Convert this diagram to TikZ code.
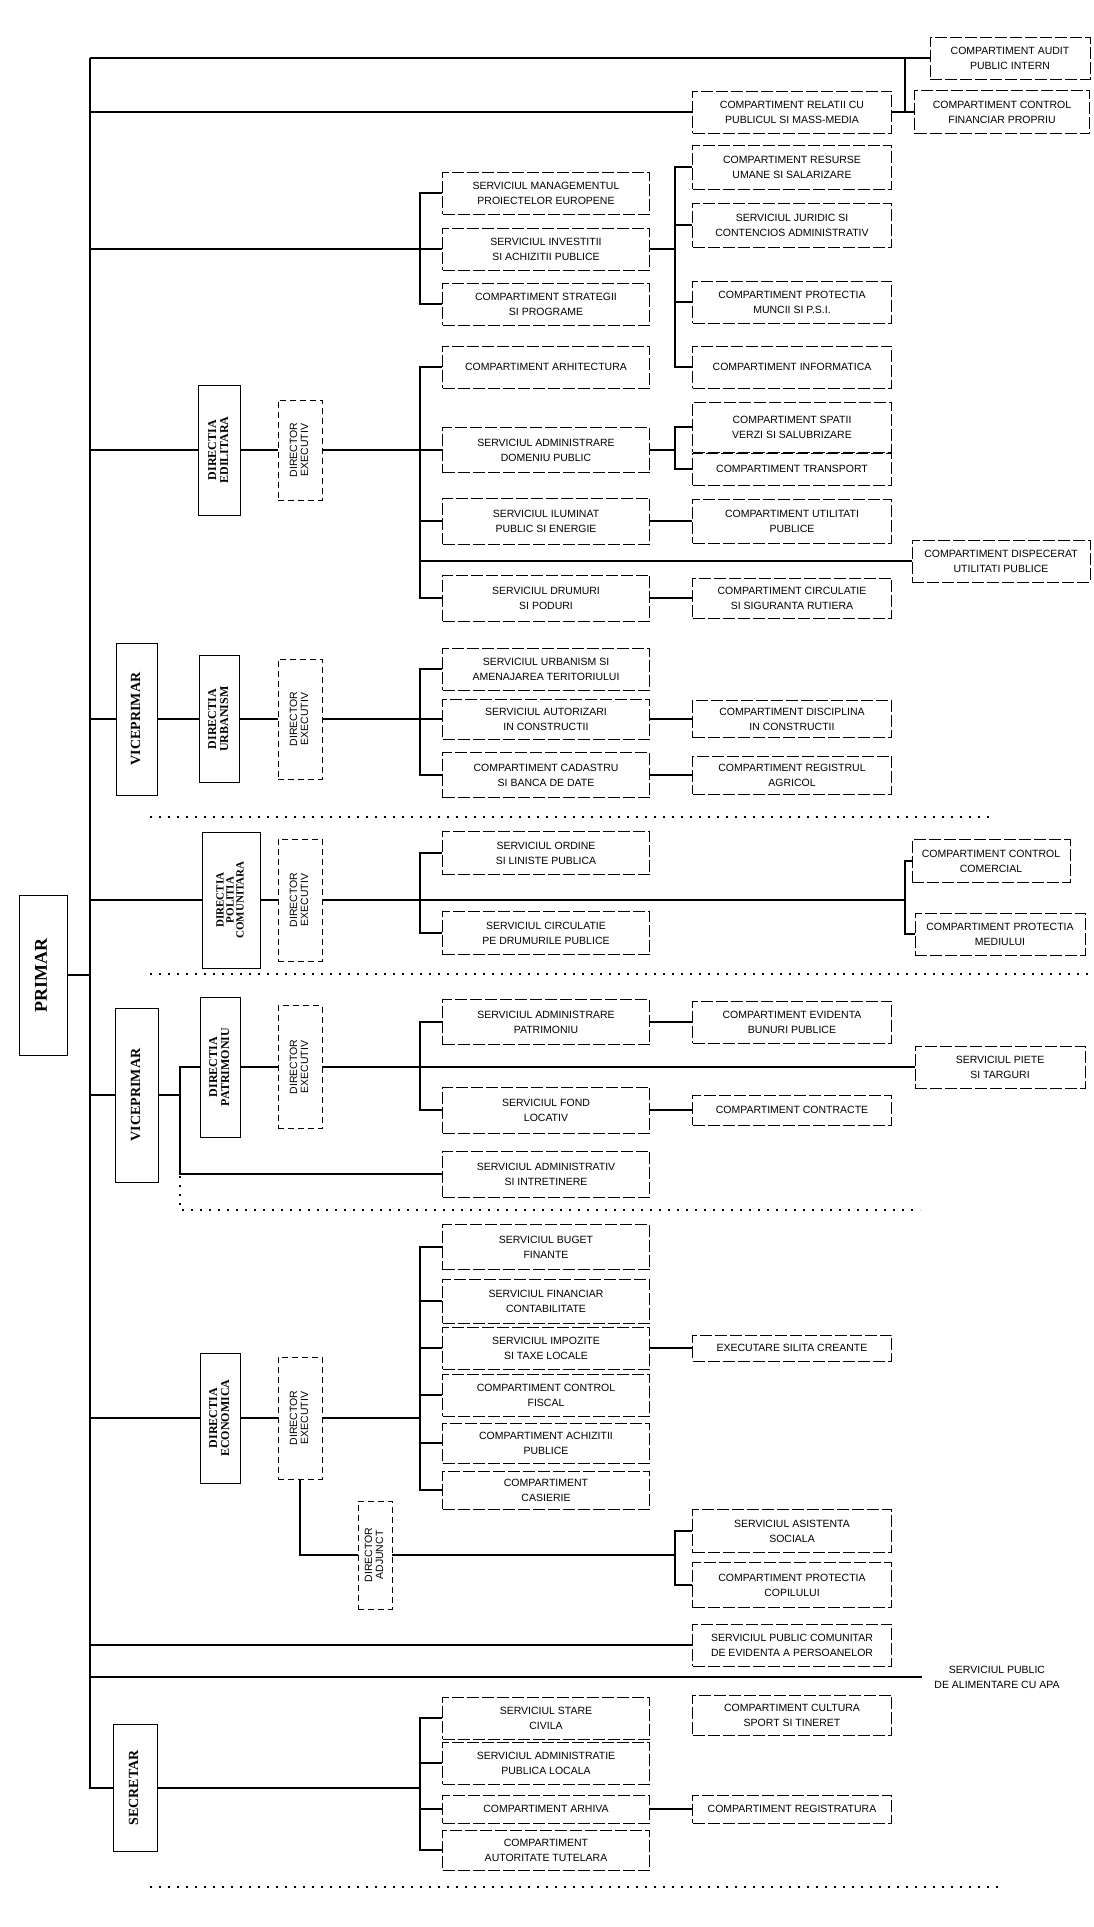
\documentclass[tikz,border=0pt]{standalone}
\usepackage{fontspec}
\usepackage{graphicx}
\setmainfont{Liberation Serif}
\setsansfont{Liberation Sans}
\newcommand\vtxt[1]{\rotatebox{90}{\begin{tabular}{@{}c@{}}#1\end{tabular}}}
\begin{document}
\begin{tikzpicture}[x=1pt,y=-1pt,
  conn/.style={line width=1.2pt},
  sep/.style={line width=1.2pt, dash pattern=on 2pt off 7pt},
  box/.style={draw, line width=0.9pt, dash pattern=on 12pt off 3pt, font=\sffamily\fontsize{10.5}{15}\selectfont, align=center, inner sep=1pt, minimum height=42pt},
  c2/.style={box, minimum width=207pt},
  c3/.style={box, minimum width=199pt},
  c4/.style={box, minimum width=175pt},
  head/.style={draw, line width=1pt, font=\rmfamily\bfseries\fontsize{12}{15}\selectfont, inner sep=1pt},
  dirx/.style={draw, line width=0.8pt, dash pattern=on 6pt off 4pt, font=\sffamily\fontsize{10.5}{13}\selectfont, inner sep=1pt, minimum width=44pt},
]
\useasboundingbox (0,0) rectangle (1094,1927);
\fill[white] (0,0) rectangle (1094,1927);

% helper coordinates
\coordinate (tTop) at (90,58);
\coordinate (tBot) at (90,1788);
\coordinate (bx) at (420,0);
\coordinate (by) at (675,0);
\coordinate (bz) at (905,0);
\coordinate (v180) at (180,0);

% left column
\node[head, font=\rmfamily\bfseries\fontsize{18}{20}\selectfont, minimum width=48pt, minimum height=160pt] (primar) at (43,975) {\vtxt{PRIMAR}};
\node[head, font=\rmfamily\bfseries\fontsize{14}{16}\selectfont, minimum width=41pt, minimum height=152pt] (vp1) at (137,719) {\vtxt{VICEPRIMAR}};
\node[head, font=\rmfamily\bfseries\fontsize{14}{16}\selectfont, minimum width=43pt, minimum height=174pt] (vp2) at (137,1095) {\vtxt{VICEPRIMAR}};
\node[head, font=\rmfamily\bfseries\fontsize{14}{16}\selectfont, minimum width=44pt, minimum height=127pt] (secretar) at (135,1788) {\vtxt{SECRETAR}};

\node[head, minimum width=42pt, minimum height=130pt] (dEd) at (219,450) {\vtxt{DIRECTIA\\[-3pt]EDILITARA}};
\node[head, minimum width=40pt, minimum height=127pt] (dUrb) at (219,719) {\vtxt{DIRECTIA\\[-3pt]URBANISM}};
\node[head, font=\rmfamily\bfseries\fontsize{11}{13}\selectfont, minimum width=58pt, minimum height=136pt] (dPol) at (231,900) {\vtxt{DIRECTIA\\[-3pt]POLITIA\\[-3pt]COMUNITARA}};
\node[head, minimum width=40pt, minimum height=140pt] (dPat) at (220,1067) {\vtxt{DIRECTIA\\[-3pt]PATRIMONIU}};
\node[head, minimum width=40pt, minimum height=130pt] (dEco) at (220,1418) {\vtxt{DIRECTIA\\[-3pt]ECONOMICA}};

\node[dirx, minimum height=100pt] (xEd) at (300,450) {\vtxt{DIRECTOR\\[-2pt]EXECUTIV}};
\node[dirx, minimum height=120pt] (xUrb) at (300,719) {\vtxt{DIRECTOR\\[-2pt]EXECUTIV}};
\node[dirx, minimum height=122pt] (xPol) at (300,900) {\vtxt{DIRECTOR\\[-2pt]EXECUTIV}};
\node[dirx, minimum height=123pt] (xPat) at (300,1067) {\vtxt{DIRECTOR\\[-2pt]EXECUTIV}};
\node[dirx, minimum height=122pt] (xEco) at (300,1418) {\vtxt{DIRECTOR\\[-2pt]EXECUTIV}};
\node[dirx, minimum width=34pt, minimum height=108pt] (xAdj) at (375,1555) {\vtxt{DIRECTOR\\[-2pt]ADJUNCT}};

% column 2
\node[c2] (c2a1) at (546,193) {SERVICIUL MANAGEMENTUL\\PROIECTELOR EUROPENE};
\node[c2] (c2a2) at (546,249) {SERVICIUL INVESTITII\\SI ACHIZITII PUBLICE};
\node[c2] (c2a3) at (546,304) {COMPARTIMENT STRATEGII\\SI PROGRAME};
\node[c2] (c2a4) at (546,367) {COMPARTIMENT ARHITECTURA};
\node[c2, minimum height=45pt] (c2e5) at (546,450) {SERVICIUL ADMINISTRARE\\DOMENIU PUBLIC};
\node[c2, minimum height=46pt] (c2e6) at (546,521) {SERVICIUL ILUMINAT\\PUBLIC SI ENERGIE};
\node[c2, minimum height=46pt] (c2e7) at (546,598) {SERVICIUL DRUMURI\\SI PODURI};
\node[c2] (c2u8) at (546,669) {SERVICIUL URBANISM SI\\AMENAJAREA TERITORIULUI};
\node[c2, minimum height=40pt] (c2u9) at (546,719) {SERVICIUL AUTORIZARI\\IN CONSTRUCTII};
\node[c2, minimum height=45pt] (c2u10) at (546,775) {COMPARTIMENT CADASTRU\\SI BANCA DE DATE};
\node[c2, minimum height=43pt] (c2p11) at (546,853) {SERVICIUL ORDINE\\SI LINISTE PUBLICA};
\node[c2, minimum height=43pt] (c2p12) at (546,933) {SERVICIUL CIRCULATIE\\PE DRUMURILE PUBLICE};
\node[c2, minimum height=45pt] (c2t13) at (546,1022) {SERVICIUL ADMINISTRARE\\PATRIMONIU};
\node[c2, minimum height=46pt] (c2t14) at (546,1110) {SERVICIUL FOND\\LOCATIV};
\node[c2, minimum height=46pt] (c2t15) at (546,1174) {SERVICIUL ADMINISTRATIV\\SI INTRETINERE};
\node[c2, minimum height=45pt] (c2c16) at (546,1247) {SERVICIUL BUGET\\FINANTE};
\node[c2, minimum height=44pt] (c2c17) at (546,1301) {SERVICIUL FINANCIAR\\CONTABILITATE};
\node[c2] (c2c18) at (546,1348) {SERVICIUL IMPOZITE\\SI TAXE LOCALE};
\node[c2] (c2c19) at (546,1395) {COMPARTIMENT CONTROL\\FISCAL};
\node[c2, minimum height=40pt] (c2c20) at (546,1443) {COMPARTIMENT ACHIZITII\\PUBLICE};
\node[c2, minimum height=38pt] (c2c21) at (546,1490) {COMPARTIMENT\\CASIERIE};
\node[c2] (c2s22) at (546,1718) {SERVICIUL STARE\\CIVILA};
\node[c2] (c2s23) at (546,1763) {SERVICIUL ADMINISTRATIE\\PUBLICA LOCALA};
\node[c2, minimum height=28pt] (c2s24) at (546,1809) {COMPARTIMENT ARHIVA};
\node[c2, minimum height=40pt] (c2s25) at (546,1850) {COMPARTIMENT\\AUTORITATE TUTELARA};

% column 3
\node[c3] (a) at (792,112) {COMPARTIMENT RELATII CU\\PUBLICUL SI MASS-MEDIA};
\node[c3, minimum height=44pt] (b) at (792,167) {COMPARTIMENT RESURSE\\UMANE SI SALARIZARE};
\node[c3, minimum height=44pt] (c) at (792,225) {SERVICIUL JURIDIC SI\\CONTENCIOS ADMINISTRATIV};
\node[c3] (d) at (792,302) {COMPARTIMENT PROTECTIA\\MUNCII SI P.S.I.};
\node[c3] (e) at (792,367) {COMPARTIMENT INFORMATICA};
\node[c3, minimum height=50pt] (f) at (792,427) {COMPARTIMENT SPATII\\VERZI SI SALUBRIZARE};
\node[c3, minimum height=32pt] (g) at (792,469) {COMPARTIMENT TRANSPORT};
\node[c3, minimum height=44pt] (h) at (792,521) {COMPARTIMENT UTILITATI\\PUBLICE};
\node[c3, minimum height=40pt] (i) at (792,598) {COMPARTIMENT CIRCULATIE\\SI SIGURANTA RUTIERA};
\node[c3, minimum height=37pt] (j) at (792,719) {COMPARTIMENT DISCIPLINA\\IN CONSTRUCTII};
\node[c3, minimum height=38pt] (k) at (792,775) {COMPARTIMENT REGISTRUL\\AGRICOL};
\node[c3] (m) at (792,1022) {COMPARTIMENT EVIDENTA\\BUNURI PUBLICE};
\node[c3, minimum height=30pt] (n) at (792,1110) {COMPARTIMENT CONTRACTE};
\node[c3, minimum height=26pt] (o) at (792,1348) {EXECUTARE SILITA CREANTE};
\node[c3, minimum height=43pt] (p) at (792,1531) {SERVICIUL ASISTENTA\\SOCIALA};
\node[c3, minimum height=45pt] (q) at (792,1585) {COMPARTIMENT PROTECTIA\\COPILULUI};
\node[c3] (r) at (792,1645) {SERVICIUL PUBLIC COMUNITAR\\DE EVIDENTA A PERSOANELOR};
\node[c3, minimum height=40pt] (s) at (792,1715) {COMPARTIMENT CULTURA\\SPORT SI TINERET};
\node[c3, minimum height=28pt] (t) at (792,1809) {COMPARTIMENT REGISTRATURA};

% column 4
\node[c4, minimum width=160pt] (A) at (1010,58) {COMPARTIMENT AUDIT\\PUBLIC INTERN};
\node[c4, minimum height=43pt] (B) at (1002,112) {COMPARTIMENT CONTROL\\FINANCIAR PROPRIU};
\node[c4, minimum width=178pt] (C) at (1001,561) {COMPARTIMENT DISPECERAT\\UTILITATI PUBLICE};
\node[c4, minimum width=158pt, minimum height=43pt] (D) at (991,861) {COMPARTIMENT CONTROL\\COMERCIAL};
\node[c4, minimum width=170pt] (E) at (1000,934) {COMPARTIMENT PROTECTIA\\MEDIULUI};
\node[c4, minimum width=170pt] (F) at (1000,1067) {SERVICIUL PIETE\\SI TARGURI};
\node[c4, draw=none, minimum width=150pt, minimum height=45pt] (G) at (997,1677) {SERVICIUL PUBLIC\\DE ALIMENTARE CU APA};

% trunk
\draw[conn] (tTop) -- (tBot) -- (secretar.west);
\draw[conn] (primar.east) -- (primar.east -| tTop);
\draw[conn] (tTop) -- (A.west);
\draw[conn] (tTop -| bz) -- (B.west -| bz);
\draw[conn] (a.west) -- (a.west -| tTop);
\draw[conn] (a.east) -- (B.west);

% top group
\draw[conn] (c2a2.west) -- (c2a2.west -| tTop);
\draw[conn] (c2a1.west) -- (c2a1.west -| bx) -- (c2a3.west -| bx) -- (c2a3.west);
\draw[conn] (c2a2.east) -- (c2a2.east -| by);
\draw[conn] (b.west) -- (b.west -| by) -- (e.west -| by) -- (e.west);
\draw[conn] (c.west -| by) -- (c.west);
\draw[conn] (d.west -| by) -- (d.west);

% edilitara
\draw[conn] (dEd.west) -- (dEd.west -| tTop);
\draw[conn] (dEd.east) -- (xEd.west);
\draw[conn] (xEd.east) -- (c2e5.west);
\draw[conn] (c2a4.west) -- (c2a4.west -| bx) -- (c2e7.west -| bx) -- (c2e7.west);
\draw[conn] (c2e6.west -| bx) -- (c2e6.west);
\draw[conn] (C.west -| bx) -- (C.west);
\draw[conn] (c2e5.east) -- (c2e5.east -| by);
\draw[conn] (f.west) -- (f.west -| by) -- (g.west -| by) -- (g.west);
\draw[conn] (c2e6.east) -- (h.west);
\draw[conn] (c2e7.east) -- (i.west);

% urbanism
\draw[conn] (vp1.west) -- (vp1.west -| tTop);
\draw[conn] (vp1.east) -- (dUrb.west);
\draw[conn] (dUrb.east) -- (xUrb.west);
\draw[conn] (xUrb.east) -- (c2u9.west);
\draw[conn] (c2u8.west) -- (c2u8.west -| bx) -- (c2u10.west -| bx) -- (c2u10.west);
\draw[conn] (c2u9.east) -- (j.west);
\draw[conn] (c2u10.east) -- (k.west);

% politia
\draw[conn] (dPol.west) -- (dPol.west -| tTop);
\draw[conn] (dPol.east) -- (xPol.west);
\draw[conn] (xPol.east) -- (xPol.east -| bz);
\draw[conn] (c2p11.west) -- (c2p11.west -| bx) -- (c2p12.west -| bx) -- (c2p12.west);
\draw[conn] (D.west) -- (D.west -| bz) -- (E.west -| bz) -- (E.west);

% patrimoniu
\draw[conn] (vp2.west) -- (vp2.west -| tTop);
\draw[conn] (vp2.east) -- (vp2.east -| v180);
\draw[conn] (dPat.west) -- (dPat.west -| v180) -- (c2t15.west -| v180) -- (c2t15.west);
\draw[conn] (dPat.east) -- (xPat.west);
\draw[conn] (xPat.east) -- (F.west);
\draw[conn] (c2t13.west) -- (c2t13.west -| bx) -- (c2t14.west -| bx) -- (c2t14.west);
\draw[conn] (c2t13.east) -- (m.west);
\draw[conn] (c2t14.east) -- (n.west);

% economica
\draw[conn] (dEco.west) -- (dEco.west -| tTop);
\draw[conn] (dEco.east) -- (xEco.west);
\draw[conn] (xEco.east) -- (xEco.east -| bx);
\draw[conn] (c2c16.west) -- (c2c16.west -| bx) -- (c2c21.west -| bx) -- (c2c21.west);
\draw[conn] (c2c17.west -| bx) -- (c2c17.west);
\draw[conn] (c2c18.west -| bx) -- (c2c18.west);
\draw[conn] (c2c19.west -| bx) -- (c2c19.west);
\draw[conn] (c2c20.west -| bx) -- (c2c20.west);
\draw[conn] (c2c18.east) -- (o.west);
\draw[conn] (xEco.south) |- (xAdj.west);
\draw[conn] (xAdj.east) -- (xAdj.east -| by);
\draw[conn] (p.west) -- (p.west -| by) -- (q.west -| by) -- (q.west);
\draw[conn] (r.west) -- (r.west -| tTop);
\draw[conn] (G.west) -- (G.west -| tTop);

% secretar
\draw[conn] (secretar.east) -- (secretar.east -| bx);
\draw[conn] (c2s22.west) -- (c2s22.west -| bx) -- (c2s25.west -| bx) -- (c2s25.west);
\draw[conn] (c2s23.west -| bx) -- (c2s23.west);
\draw[conn] (c2s24.west -| bx) -- (c2s24.west);
\draw[conn] (c2s24.east) -- (t.west);

% faint separators
\draw[sep] (150,817) -- (990,817);
\draw[sep] (150,974) -- (1090,974);
\draw[sep] (180,1095) -- (180,1210) -- (920,1210);
\draw[sep] (150,1887) -- (1000,1887);
\end{tikzpicture}
\end{document}
